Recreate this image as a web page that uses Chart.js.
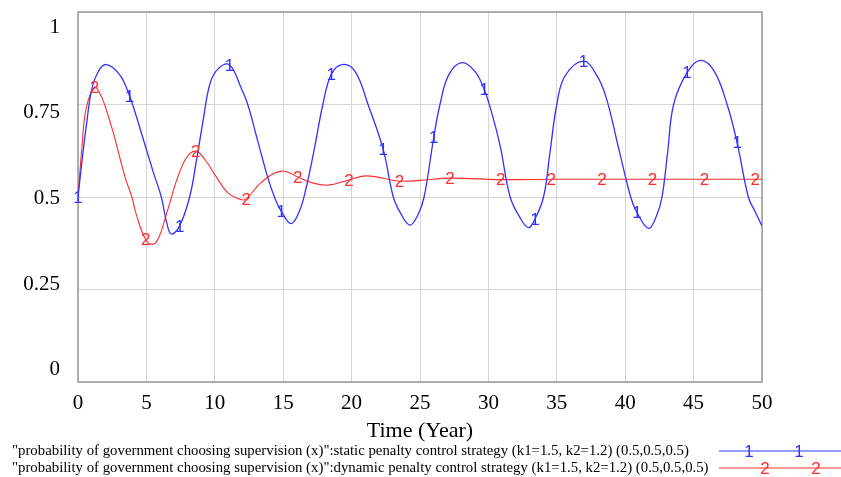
<!DOCTYPE html>
<html>
<head>
<meta charset="utf-8">
<script src="https://cdn.jsdelivr.net/npm/chart.js@4"></script>
<style>
  html, body { margin: 0; padding: 0; background: #fff; }
  #wrap { width: 841px; height: 477px; position: relative; }
</style>
</head>
<body>
<div id="wrap"><canvas id="myChart" width="841" height="477"></canvas></div>
<script>
// time (year) and values
const blueT = [0, 0.3, 0.6, 1.0, 1.5, 2.06, 3.04, 3.77, 4.74, 5.48, 6.09, 6.46, 6.82, 7.43, 8.16, 8.65, 9.14, 9.63, 10.2, 11.07,
    11.92, 12.41, 13.14, 13.87, 14.36, 14.85, 15.58, 16.19, 16.68, 17.29, 17.9, 18.51, 19.3,
    20.24, 21.2, 22.3, 23.05, 23.6, 24.27, 24.85, 25.3, 26.0, 26.46, 27.1, 28.05,
    29.0, 29.7, 30.3, 30.86, 31.59, 32.3, 32.93, 33.4, 34.03, 34.5, 35.0, 35.6, 36.95,
    37.9, 38.6, 39.5, 40.4, 40.86, 41.71, 42.3, 42.69, 43.1, 43.54, 44.52, 45.5,
    46.5, 47.45, 48.18, 49.0, 49.5, 50.0];
const blueV = [0.50, 0.60, 0.69, 0.79, 0.84, 0.858, 0.831, 0.773, 0.66, 0.57, 0.50, 0.435, 0.40, 0.422, 0.50, 0.597, 0.705, 0.804, 0.845, 0.857,
    0.795, 0.75, 0.651, 0.553, 0.50, 0.462, 0.428, 0.462, 0.525, 0.633, 0.75, 0.831, 0.858,
    0.84, 0.75, 0.63, 0.50, 0.455, 0.424, 0.452, 0.50, 0.66, 0.75, 0.83, 0.863,
    0.84, 0.79, 0.72, 0.638, 0.50, 0.445, 0.417, 0.44, 0.50, 0.62, 0.75, 0.827, 0.867,
    0.83, 0.77, 0.635, 0.50, 0.458, 0.415, 0.45, 0.50, 0.62, 0.75, 0.836, 0.869,
    0.84, 0.75, 0.647, 0.50, 0.46, 0.422];

const redT = [0, 0.3, 0.6, 1.2, 1.57, 1.94, 2.55, 3.1, 3.53, 3.94, 4.26, 4.95, 5.48, 5.9, 6.46, 6.84, 7.19, 7.92, 8.6, 9.3, 9.99, 10.94, 11.9, 12.3, 13.38, 14.85, 16.07, 17.04, 18.26, 19.8, 21.1, 23.5, 25.0, 27.2, 30.9, 34.6, 38.3, 42.0, 45.8, 49.5, 50.0];
const redV = [0.50, 0.64, 0.74, 0.797, 0.782, 0.75, 0.678, 0.60, 0.543, 0.50, 0.453, 0.385, 0.372, 0.39, 0.453, 0.50, 0.543, 0.606, 0.624, 0.60, 0.561, 0.512, 0.493, 0.495, 0.539, 0.570, 0.554, 0.539, 0.532, 0.546, 0.557, 0.543, 0.545, 0.551, 0.547, 0.548, 0.548, 0.548, 0.548, 0.548, 0.548];

// where the "1" and "2" line markers sit
const blueMarks = [0, 3.77, 7.43, 11.07, 14.85, 18.51, 22.3, 26.0, 29.7, 33.4, 36.95, 40.86, 44.52, 48.18];
const redMarks = [1.2, 4.95, 8.6, 12.3, 16.07, 19.8, 23.5, 27.2, 30.9, 34.6, 38.3, 42.0, 45.8, 49.5];

const xTicks = [0, 5, 10, 15, 20, 25, 30, 35, 40, 45, 50];
const yTicks = [0, 0.25, 0.5, 0.75, 1];

const seriesNames = [
  '"probability of government choosing supervision (x)":static penalty control strategy (k1=1.5, k2=1.2) (0.5,0.5,0.5)',
  '"probability of government choosing supervision (x)":dynamic penalty control strategy (k1=1.5, k2=1.2) (0.5,0.5,0.5)'
];

const BLUE = 'rgb(50,50,255)';
const RED = 'rgb(255,45,45)';

const serif = '"Liberation Serif", "Times New Roman", serif';
const sans = '"Liberation Sans", Arial, sans-serif';

const markerPlugin = {
    id: 'markers',
    afterDatasetsDraw(chart) {
        const ctx = chart.ctx;
        ctx.save();
        ctx.font = '17px ' + sans;
        ctx.textAlign = 'center';
        ctx.textBaseline = 'middle';
        chart.data.datasets.forEach((ds, i) => {
            const meta = chart.getDatasetMeta(i);
            meta.data.forEach((pt, j) => {
                if (ds.marks.includes(ds.data[j].x)) {
                    ctx.fillStyle = ds.borderColor;
                    ctx.fillText(ds.mark, pt.x, pt.y + 1);
                }
            });
        });
        ctx.restore();
    }
};

const framePlugin = {
    id: 'frame',
    beforeDatasetsDraw(chart) {
        const a = chart.chartArea;
        const ctx = chart.ctx;
        ctx.save();
        ctx.strokeStyle = '#9a9a9a';
        ctx.lineWidth = 1.5;
        ctx.strokeRect(a.left, a.top, a.right - a.left, a.bottom - a.top);
        ctx.restore();
    },
    afterDraw(chart) {
        const ctx = chart.ctx;
        const ys = chart.scales.y;
        ctx.save();
        // y labels, pulled inward like the original
        ctx.font = '21px ' + serif;
        ctx.fillStyle = '#000';
        ctx.textAlign = 'right';
        ctx.textBaseline = 'middle';
        yTicks.forEach(v => {
            const p = ys.getPixelForValue(v) + 1.5 + (v - 0.5) * 27.5;
            ctx.fillText(String(v), 60, p);
        });
        // legend
        const rows = [451, 468];
        chart.data.datasets.forEach((ds, i) => {
            const y = rows[i];
            ctx.font = '14.8px ' + serif;
            ctx.textAlign = 'left';
            ctx.fillStyle = '#000';
            ctx.fillText(seriesNames[i], 12, y);
            ctx.strokeStyle = ds.borderColor;
            ctx.lineWidth = 1.2;
            ctx.beginPath();
            ctx.moveTo(719, y);
            ctx.lineTo(841, y);
            ctx.stroke();
            ctx.fillStyle = ds.borderColor;
            ctx.font = '17px ' + sans;
            ctx.textAlign = 'center';
            const xs = i === 0 ? [749, 799] : [765, 816];
            xs.forEach(x => ctx.fillText(ds.mark, x, y + 1));
        });
        ctx.restore();
    }
};

const ctx = document.getElementById('myChart').getContext('2d');

const myChart = new Chart(ctx, {
    type: 'line',
    data: {
        datasets: [{
            label: seriesNames[0],
            data: blueT.map((t, i) => ({ x: t, y: blueV[i] })),
            borderColor: BLUE,
            borderWidth: 1.3,
            pointRadius: 0,
            tension: 0.4,
            marks: blueMarks,
            mark: '1'
        }, {
            label: seriesNames[1],
            data: redT.map((t, i) => ({ x: t, y: redV[i] })),
            borderColor: RED,
            borderWidth: 1.1,
            pointRadius: 0,
            tension: 0.4,
            marks: redMarks,
            mark: '2'
        }]
    },
    options: {
        responsive: false,
        animation: false,
        events: [],
        layout: { padding: { left: 78, right: 79, top: 12, bottom: 35 } },
        plugins: { legend: { display: false }, tooltip: { enabled: false } },
        scales: {
            x: {
                type: 'linear',
                min: 0,
                max: 50,
                afterBuildTicks: s => { s.ticks = xTicks.map(v => ({ value: v })); },
                grid: { color: '#d6d6d6', lineWidth: 1, drawTicks: false },
                border: { display: false },
                ticks: { color: '#000', font: { family: serif, size: 21, lineHeight: 1 }, padding: 11, maxRotation: 0 },
                title: { display: true, text: 'Time (Year)', color: '#000', font: { family: serif, size: 22, lineHeight: 1 }, padding: { top: -5, bottom: 0 } }
            },
            y: {
                min: 0,
                max: 1,
                afterBuildTicks: s => { s.ticks = yTicks.map(v => ({ value: v })); },
                grid: { color: '#d6d6d6', lineWidth: 1, drawTicks: false },
                border: { display: false },
                ticks: { display: false }
            }
        }
    },
    plugins: [framePlugin, markerPlugin]
});
</script>
</body>
</html>
